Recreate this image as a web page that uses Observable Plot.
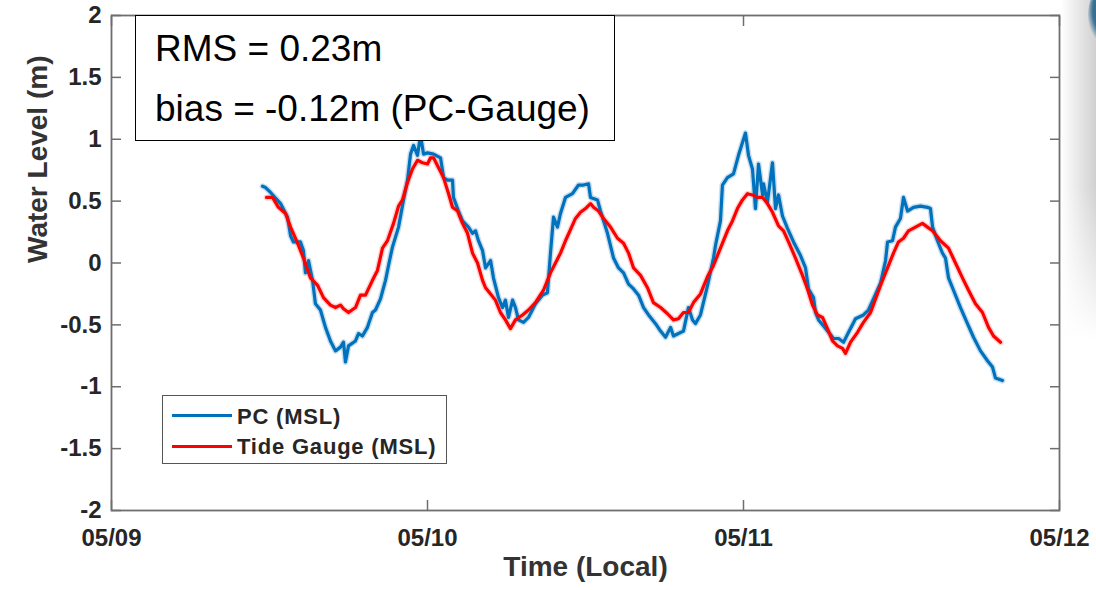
<!DOCTYPE html>
<html>
<head>
<meta charset="utf-8">
<script src="https://cdn.jsdelivr.net/npm/d3@7"></script>
<script src="https://cdn.jsdelivr.net/npm/@observablehq/plot@0.6"></script>
<style>
  body { margin: 0; background: #fff; }
  #wrap { position: relative; width: 1096px; height: 590px; overflow: hidden; font-family: "Liberation Sans", Arial, sans-serif; background: #fff; }
  #wrap svg { position: absolute; left: 0; top: 0; }
  #shade { position: absolute; left: 1061px; top: 0; width: 35px; height: 340px;
    background: linear-gradient(to right, rgba(255,255,255,0), rgba(200,200,200,0.85));
    -webkit-mask-image: linear-gradient(to bottom, #000 0%, #000 55%, transparent 100%);
    mask-image: linear-gradient(to bottom, #000 0%, #000 55%, transparent 100%); }
  #swoosh { position: absolute; left: 1088px; top: -12px; width: 30px; height: 56px; border-radius: 50%;
    background: radial-gradient(ellipse at 70% 40%, #1d4e6e 0%, #3b7394 55%, rgba(120,160,190,0) 75%); }
  #stats { position: absolute; left: 135px; top: 15px; width: 478px; height: 124px; border: 1.5px solid #000; background: #fff; }
  .stat { position: absolute; left: 155px; font-size: 37px; line-height: 37px; color: #000; white-space: nowrap; }
  #legend { position: absolute; left: 162px; top: 395px; width: 283px; height: 67px; border: 1.5px solid #555; background: #fff; }
  .lg-line { position: absolute; left: 172px; width: 60px; height: 3px; }
  .lg-text { position: absolute; left: 237px; font-size: 22px; line-height: 22px; font-weight: bold; letter-spacing: 0.8px; color: #262626; white-space: nowrap; }
</style>
</head>
<body>
<div id="wrap"></div>
<script>
// Time in hours after 05/09 00:00 (local); water level in metres (MSL)
const pcHours = [11.47,11.70,12.08,12.84,13.37,13.60,13.82,14.35,14.58,14.73,14.96,15.27,15.49,15.87,16.25,16.63,17.01,17.39,17.62,17.77,18.00,18.53,18.76,19.06,19.44,19.82,20.05,20.43,20.81,21.04,21.34,21.80,22.18,22.48,22.71,22.94,23.24,23.47,23.70,24.00,24.46,24.99,25.22,25.52,25.90,25.97,26.35,26.66,27.11,27.42,27.65,27.87,28.18,28.41,28.79,29.01,29.39,29.70,29.92,30.15,30.46,30.68,30.91,31.29,31.67,32.20,32.73,33.11,33.34,33.57,33.87,34.10,34.48,35.01,35.47,35.85,36.23,36.38,36.91,37.14,37.67,38.13,38.51,38.89,39.27,39.65,40.03,40.41,40.79,41.32,41.70,42.08,42.46,42.68,43.06,43.44,43.82,44.13,44.35,44.73,45.27,45.72,45.87,46.25,46.40,46.78,47.24,47.62,48.15,48.38,48.68,48.91,49.14,49.45,49.52,49.82,50.20,50.43,50.66,50.96,51.34,51.80,52.33,52.71,52.94,53.32,53.47,53.70,54.08,54.46,54.84,55.22,55.60,55.98,56.51,57.11,57.49,57.87,58.41,58.79,58.94,59.32,59.54,59.92,60.15,60.46,60.91,61.44,61.97,62.20,62.36,62.73,63.11,63.34,63.57,63.95,64.48,65.01,65.47,66.00,66.53,66.91,67.14,67.67];
const pcLevel = [0.62,0.61,0.57,0.48,0.37,0.22,0.17,0.17,0.10,-0.08,0.02,-0.14,-0.33,-0.38,-0.52,-0.63,-0.71,-0.68,-0.64,-0.80,-0.67,-0.63,-0.57,-0.59,-0.52,-0.40,-0.38,-0.29,-0.14,-0.02,0.13,0.29,0.51,0.67,0.88,0.95,0.87,1.03,0.88,0.89,0.88,0.85,0.69,0.67,0.67,0.53,0.42,0.34,0.29,0.24,0.26,0.18,0.10,-0.04,0.02,-0.12,-0.28,-0.36,-0.30,-0.44,-0.30,-0.36,-0.46,-0.48,-0.44,-0.33,-0.26,-0.24,0.08,0.37,0.29,0.40,0.53,0.56,0.63,0.63,0.64,0.53,0.51,0.42,0.24,0.04,-0.04,-0.08,-0.17,-0.21,-0.26,-0.36,-0.42,-0.49,-0.55,-0.60,-0.52,-0.59,-0.57,-0.55,-0.36,-0.46,-0.49,-0.42,-0.18,0.04,0.14,0.34,0.63,0.69,0.72,0.87,1.05,0.87,0.76,0.44,0.80,0.55,0.64,0.49,0.81,0.44,0.55,0.38,0.28,0.17,0.06,-0.04,-0.21,-0.28,-0.40,-0.46,-0.51,-0.56,-0.61,-0.61,-0.64,-0.56,-0.45,-0.42,-0.38,-0.29,-0.16,0.02,0.17,0.18,0.29,0.36,0.53,0.42,0.45,0.46,0.45,0.44,0.29,0.18,0.08,0.04,-0.12,-0.22,-0.36,-0.49,-0.60,-0.71,-0.79,-0.84,-0.93,-0.95];
const gaugeHours = [11.77,12.23,12.68,13.22,13.60,14.13,14.58,15.11,15.65,16.10,16.63,17.01,17.39,17.62,18.00,18.53,18.91,19.29,19.82,20.20,20.58,20.96,21.19,21.42,21.80,22.10,22.48,22.86,23.24,23.62,24.00,24.23,24.46,24.84,25.22,25.60,25.90,26.28,26.66,27.04,27.42,27.80,28.18,28.41,28.79,29.16,29.54,29.92,30.30,30.68,31.22,31.67,32.20,32.81,33.34,33.72,34.10,34.48,34.86,35.24,35.62,36.00,36.38,36.61,36.99,37.37,37.90,38.43,38.89,39.27,39.65,40.18,40.71,41.16,41.70,42.23,42.68,43.06,43.44,43.82,44.20,44.73,45.27,45.72,46.25,46.78,47.16,47.54,47.92,48.30,48.68,49.06,49.45,49.82,50.20,50.66,51.04,51.42,51.95,52.48,52.86,53.24,53.62,54.00,54.38,54.76,55.14,55.52,55.75,56.13,56.66,57.11,57.65,58.03,58.41,58.94,59.39,59.77,60.15,60.53,61.06,61.59,61.97,62.36,62.96,63.57,64.10,64.63,65.09,65.62,66.15,66.61,66.99,67.52];
const gaugeLevel = [0.53,0.53,0.45,0.40,0.29,0.16,0.04,-0.12,-0.18,-0.28,-0.34,-0.36,-0.34,-0.37,-0.40,-0.36,-0.26,-0.26,-0.14,-0.06,0.12,0.18,0.25,0.32,0.46,0.51,0.65,0.76,0.83,0.81,0.80,0.85,0.85,0.77,0.69,0.56,0.45,0.42,0.32,0.24,0.08,0.00,-0.14,-0.20,-0.25,-0.30,-0.40,-0.46,-0.53,-0.46,-0.42,-0.38,-0.32,-0.22,-0.08,0.00,0.08,0.18,0.27,0.36,0.41,0.44,0.48,0.45,0.42,0.36,0.29,0.20,0.16,0.08,-0.04,-0.10,-0.20,-0.32,-0.36,-0.41,-0.46,-0.45,-0.40,-0.40,-0.32,-0.25,-0.11,-0.02,0.12,0.26,0.34,0.44,0.51,0.56,0.55,0.53,0.53,0.48,0.41,0.30,0.26,0.17,0.04,-0.10,-0.21,-0.34,-0.42,-0.44,-0.53,-0.63,-0.67,-0.69,-0.73,-0.64,-0.56,-0.48,-0.40,-0.29,-0.18,-0.04,0.08,0.17,0.20,0.26,0.29,0.32,0.29,0.26,0.18,0.12,0.00,-0.12,-0.22,-0.33,-0.40,-0.52,-0.59,-0.64];

const xTicks = [0, 24, 48, 72];
const xTickLabels = ["05/09", "05/10", "05/11", "05/12"];
const yTicks = [2, 1.5, 1, 0.5, 0, -0.5, -1, -1.5, -2];
const yTickLabels = ["2", "1.5", "1", "0.5", "0", "-0.5", "-1", "-1.5", "-2"];

const seriesNames = ["PC (MSL)", "Tide Gauge (MSL)"];
const seriesColors = ["#0072BD", "#FF0000"];
const statLines = ["RMS = 0.23m", "bias = -0.12m (PC-Gauge)"];
const xTitle = "Time (Local)";
const yTitle = "Water Level (m)";

const pc = pcHours.map((h, i) => ({h, v: pcLevel[i]}));
const gauge = gaugeHours.map((h, i) => ({h, v: gaugeLevel[i]}));

const axisColor = "#6e6e6e";
const labelColor = "#262626";

const chart = Plot.plot({
  width: 1096,
  height: 590,
  marginLeft: 111,
  marginRight: 37,
  marginTop: 15,
  marginBottom: 80,
  x: {domain: [0, 72]},
  y: {domain: [-2, 2]},
  style: {fontFamily: "'Liberation Sans', Arial, sans-serif", background: "transparent", overflow: "visible"},
  marks: [
    // inward ticks on all four sides
    Plot.axisX(xTicks, {anchor: "bottom", tickSize: 10, dy: -10, fill: "none", stroke: axisColor, strokeWidth: 1.5, label: null}),
    Plot.axisX(xTicks, {anchor: "top", tickSize: 10, dy: 10, fill: "none", stroke: axisColor, strokeWidth: 1.5, label: null}),
    Plot.axisY(yTicks, {anchor: "left", tickSize: 10, dx: 10, fill: "none", stroke: axisColor, strokeWidth: 1.5, label: null}),
    Plot.axisY(yTicks, {anchor: "right", tickSize: 10, dx: -10, fill: "none", stroke: axisColor, strokeWidth: 1.5, label: null}),
    // tick labels
    Plot.axisX(xTicks, {anchor: "bottom", tickSize: 0, tickPadding: 18, tickFormat: d => xTickLabels[xTicks.indexOf(d)],
      fontSize: 24, fontWeight: "bold", fill: labelColor, label: null}),
    Plot.axisY(yTicks, {anchor: "left", tickSize: 0, tickPadding: 10, tickFormat: d => yTickLabels[yTicks.indexOf(d)],
      fontSize: 24, fontWeight: "bold", fill: labelColor, label: null}),
    Plot.frame({stroke: axisColor, strokeWidth: 1.8}),
    // halo under lines
    Plot.line(pc, {x: "h", y: "v", stroke: "#9fc3de", strokeWidth: 6, strokeOpacity: 0.55}),
    Plot.line(gauge, {x: "h", y: "v", stroke: "#f3a0a0", strokeWidth: 6, strokeOpacity: 0.45}),
    Plot.line(pc, {x: "h", y: "v", stroke: seriesColors[0], strokeWidth: 3.2}),
    Plot.line(gauge, {x: "h", y: "v", stroke: seriesColors[1], strokeWidth: 3.2}),
    // axis titles
    Plot.text([yTitle], {frameAnchor: "left", dx: -73, rotate: -90, fontSize: 28, fontWeight: "bold", fill: "#333"}),
    Plot.text([xTitle], {frameAnchor: "bottom", dy: 65, fontSize: 28, fontWeight: "bold", fill: "#333"})
  ]
});

const wrap = document.getElementById("wrap");
wrap.appendChild(chart);

function add(html) { wrap.insertAdjacentHTML("beforeend", html); }
add('<div id="shade"></div><div id="swoosh"></div>');
add('<div id="stats"></div>');
add(`<div class="stat" style="top:30px">${statLines[0]}</div>`);
add(`<div class="stat" style="top:90px">${statLines[1]}</div>`);
add('<div id="legend"></div>');
add(`<div class="lg-line" style="top:413.5px;background:${seriesColors[0]}"></div>`);
add(`<div class="lg-line" style="top:444.5px;background:${seriesColors[1]}"></div>`);
add(`<div class="lg-text" style="top:405.5px">${seriesNames[0]}</div>`);
add(`<div class="lg-text" style="top:435.5px">${seriesNames[1]}</div>`);
</script>
</body>
</html>
